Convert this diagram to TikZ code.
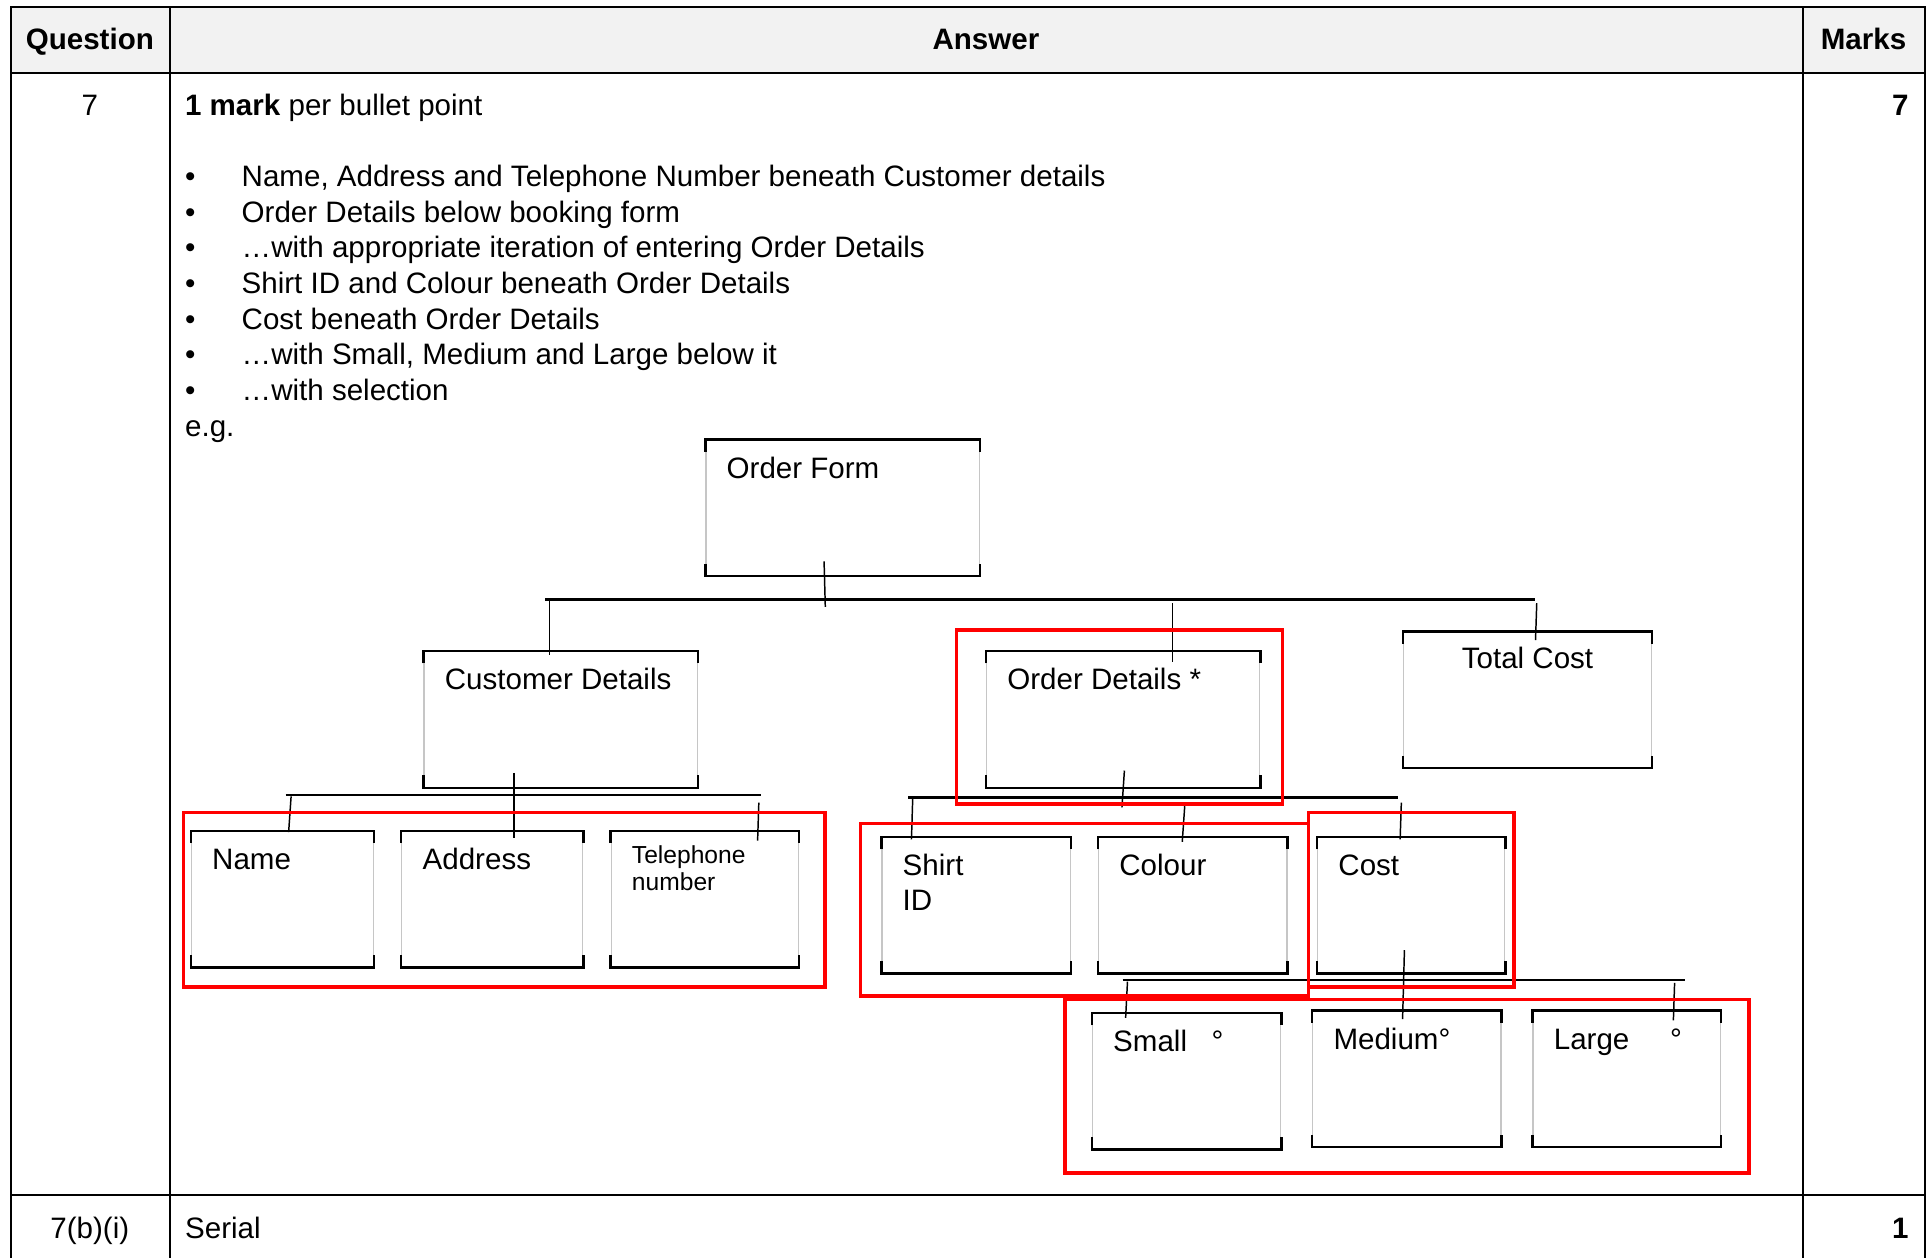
\documentclass[tikz,border=0pt]{standalone}
\usepackage{fontspec}
\setmainfont{Liberation Sans}
\usepackage{xcolor}
\usepackage{tikz}
\usetikzlibrary{calc}
\definecolor{headgray}{HTML}{F2F2F2}
\definecolor{markred}{HTML}{FF0000}
\newcommand{\twolines}[2]{\begin{tabular}[t]{@{}l@{}}#1\\#2\end{tabular}}

\begin{document}
\begin{tikzpicture}[x=0.5pt,y=-0.5pt,
  every node/.style={font=\fontsize{12}{14.5}\selectfont, inner sep=0pt},
  rule/.style={line width=0.8pt},
  formbox/.style={draw=gray!45, line width=0.5pt, anchor=north west, minimum height=55pt},
  boxedge/.style={line width=1pt},
  lbl/.style={anchor=base west, xshift=8.5pt, yshift=-15.75pt},
  link/.style={line width=0.6pt},
  bus/.style={line width=1pt},
  markbox/.style={draw=markred, line width=1.5pt}]
\useasboundingbox (0,0) rectangle (1568,1022);

% table
\fill[headgray] (9,6) rectangle (1564,59);
\draw[rule] (9,1022) -- (9,6) -- (1564,6) -- (1564,1022);
\draw[rule] (9,59) -- (1564,59);
\draw[rule] (9,971) -- (1564,971);
\draw[rule] (138,6) -- (138,1022);
\draw[rule] (1465,6) -- (1465,1022);

\node[anchor=base] (qhead) at (73,40.5) {\textbf{Question}};
\node[anchor=base] (ahead) at (801,40.5) {\textbf{Answer}};
\node[anchor=base] (mhead) at (1514,40.5) {\textbf{Marks}};
\node[anchor=base] (qnum) at (73,93.5) {7};
\node[anchor=base east] (mnum) at (1551,93.5) {\textbf{7}};
\node[anchor=base] (qnext) at (73,1006.5) {7(b)(i)};
\node[anchor=base west] (anext) at (150,1006.5) {Serial};
\node[anchor=base east] (mnext) at (1551,1006.5) {\textbf{1}};

\node[anchor=base west] (points) at (150,93.5) {%
\begin{tabular}[t]{@{}p{23pt}@{}l@{}}
\multicolumn{2}{@{}l@{}}{\textbf{1 mark} per bullet point}\\
\\
\textbullet & Name, Address and Telephone Number beneath Customer details\\
\textbullet & Order Details below booking form\\
\textbullet & \ldots with appropriate iteration of entering Order Details\\
\textbullet & Shirt ID and Colour beneath Order Details\\
\textbullet & Cost beneath Order Details\\
\textbullet & \ldots with Small, Medium and Large below it\\
\textbullet & \ldots with selection\\
\multicolumn{2}{@{}l@{}}{e.g.}
\end{tabular}};

% structure chart
\node[formbox, minimum width=111pt, label={[lbl]north west:Order Form}] (form) at (573,357) {};
\node[formbox, minimum width=111pt, label={[lbl]north west:Customer Details}] (cust) at (344,529) {};
\node[formbox, minimum width=111pt, label={[lbl]north west:Order Details *}] (odet) at (801,529) {};
\node[formbox, minimum width=100.5pt, label={[anchor=base, yshift=-15.25pt]north:Total Cost}] (total) at (1140,513) {};
\node[formbox, minimum width=74pt, label={[lbl]north west:Name}] (name) at (155,675) {};
\node[formbox, minimum width=73.5pt, label={[lbl]north west:Address}] (addr) at (326,675) {};
\node[formbox, minimum width=76pt, label={[lbl, yshift=2.5pt, font=\fontsize{10}{11}\selectfont]north west:\twolines{Telephone}{number}}] (tel) at (496,675) {};
\node[formbox, minimum width=76.5pt, label={[lbl, font=\fontsize{12}{14}\selectfont]north west:\twolines{Shirt}{ID}}] (shirt) at (716,680) {};
\node[formbox, minimum width=76.5pt, label={[lbl]north west:Colour}] (colour) at (892,680) {};
\node[formbox, minimum width=76pt, label={[lbl]north west:Cost}] (cost) at (1070,680) {};
\node[formbox, minimum width=76.5pt, label={[lbl]north west:Small\hspace{10pt}°}] (small) at (887,823) {};
\node[formbox, minimum width=76.5pt, label={[lbl]north west:Medium°}] (medium) at (1066,821) {};
\node[formbox, minimum width=76pt, label={[lbl]north west:Large\hspace{16.5pt}°}] (large) at (1245,821) {};

\foreach \n in {form,cust,odet,total,name,addr,tel,shirt,colour,cost,small,medium,large}{
  \draw[boxedge] ([yshift=-5pt]\n.north west) -- (\n.north west) -- (\n.north east) -- ([yshift=-5pt]\n.north east);
  \draw[boxedge] ([yshift=5pt]\n.south west) -- (\n.south west) -- (\n.south east) -- ([yshift=5pt]\n.south east);
}

% connectors
\coordinate (busA) at (443,487);
\coordinate (busB) at (1247,487);
\coordinate (busC) at (232,646);
\coordinate (busD) at (618,646);
\coordinate (busE) at (738,648);
\coordinate (busF) at (1136,648);
\coordinate (busG) at (912,796);
\coordinate (busH) at (1369,796);
\draw[bus] (busA) -- (busB);
\draw[bus] (busC) -- (busD);
\draw[bus] (busE) -- (busF);
\draw[bus] (busG) -- (busH);

\draw[link] ($(form.south)+(-15,-12)$) -- ($(form.south)+(-14,25)$);
\draw[link] ($(cust.north)+(-9,-42)$) -- ($(cust.north)+(-9,3)$);
\draw[link] ($(odet.north)+(40,-39)$) -- ($(odet.north)+(40,9)$);
\draw[link] ($(total.north)+(7.5,-23)$) -- ($(total.north)+(6.5,7)$);

\draw[link] ($(cust.south)+(-38,-12)$) -- ($(cust.south)+(-38,41)$);
\draw[link] ($(name.north)+(7,-28)$) -- ($(name.north)+(5,1)$);
\draw[link] ($(tel.north)+(44,-23)$) -- ($(tel.north)+(43,8)$);

\draw[link] ($(odet.south)+(1,-14)$) -- ($(odet.south)+(-1,16)$);
\draw[link] ($(shirt.north)+(-51.5,-31)$) -- ($(shirt.north)+(-52.5,2)$);
\draw[link] ($(colour.north)+(-6.5,-25)$) -- ($(colour.north)+(-8.5,4)$);
\draw[link] ($(cost.north)+(-8,-28)$) -- ($(cost.north)+(-9,2)$);

\draw[link] ($(cost.south)+(-5.5,-19)$) -- ($(cost.south)+(-7,37)$);
\draw[link] ($(small.north)+(-48,-25.5)$) -- ($(small.north)+(-49.5,4)$);
\draw[link] ($(large.north)+(39,-22.5)$) -- ($(large.north)+(38,8)$);

% marking boxes
\draw[markbox] (149,660) rectangle (670,802);
\draw[markbox] (777,512) rectangle (1042,653);
\draw[markbox] (699,669) rectangle (1063,809);
\draw[markbox] (1063,660) rectangle (1230,802);
\draw[markbox] (865,812) rectangle (1421,953);
\end{tikzpicture}
\end{document}
